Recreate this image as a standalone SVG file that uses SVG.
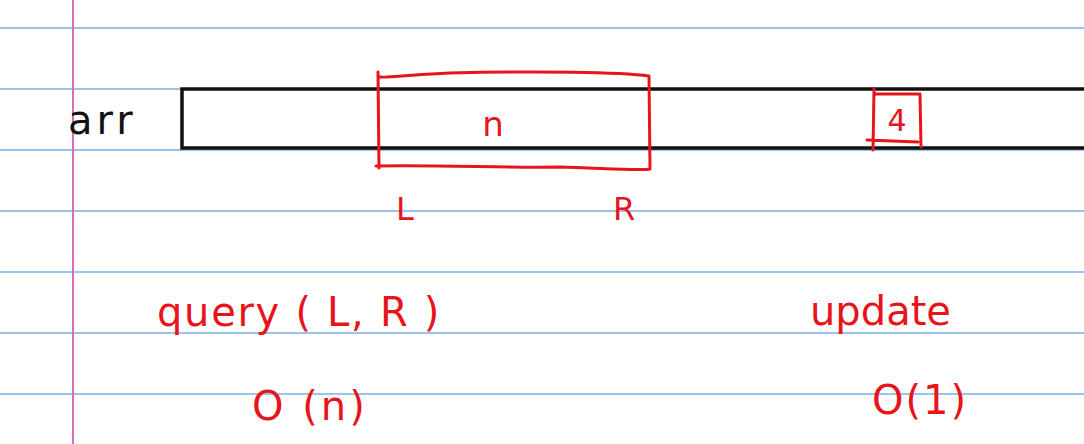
<svg xmlns="http://www.w3.org/2000/svg" width="1084" height="444" viewBox="0 0 1084 444">
<style>
.rule{stroke:#9cc3ea;stroke-width:2}
.margin{stroke:#d86cc0;stroke-width:2}
.ink{fill:none;stroke:#111;stroke-width:3.5}
.red{fill:none;stroke:#e8141b;stroke-width:3;stroke-linecap:round;stroke-linejoin:round}
.rt{fill:#e8141b;font-family:"DejaVu Sans","Liberation Sans",sans-serif}
.bt{fill:#111;font-family:"DejaVu Sans","Liberation Sans",sans-serif}
</style>
<rect width="1084" height="444" fill="#fff"/>
<g id="paper">
<line class="rule" x1="0" y1="28" x2="1084" y2="28"/>
<line class="rule" x1="0" y1="89" x2="1084" y2="89"/>
<line class="rule" x1="0" y1="150" x2="1084" y2="150"/>
<line class="rule" x1="0" y1="211" x2="1084" y2="211"/>
<line class="rule" x1="0" y1="272" x2="1084" y2="272"/>
<line class="rule" x1="0" y1="333" x2="1084" y2="333"/>
<line class="rule" x1="0" y1="394" x2="1084" y2="394"/>
<line class="margin" x1="73" y1="0" x2="73" y2="444"/>
</g>
<g id="arr">
<path class="ink" d="M1086 89 H182 V148 H1086"/>
<text class="bt" x="68" y="134" font-size="40" letter-spacing="4">arr</text>
</g>
<g id="range">
<path class="red" d="M378 72 L379 168 M376 166 C450 165 500 168 560 167 C600 168 640 171 650 169 L649 76 C620 72 540 71 450 73 C400 75 385 78 380 77"/>
<text class="rt" x="493" y="136" font-size="34" text-anchor="middle">n</text>
<text class="rt" x="405" y="220" font-size="32" text-anchor="middle">L</text>
<text class="rt" x="624" y="220" font-size="32" text-anchor="middle">R</text>
</g>
<g id="cell">
<path class="red" d="M874 89 L873 150 M867 140 L918 142 M874 94 L920 94 L921 147"/>
<text class="rt" x="897" y="131" font-size="30" text-anchor="middle">4</text>
</g>
<g id="query">
<text class="rt" x="157" y="326" font-size="40" letter-spacing="1.7">query ( L, R )</text>
<text class="rt" x="252" y="420" font-size="40" letter-spacing="3">O (n)</text>
</g>
<g id="update">
<text class="rt" x="810" y="325" font-size="40">update</text>
<text class="rt" x="872" y="414" font-size="40" letter-spacing="2">O(1)</text>
</g>
</svg>
